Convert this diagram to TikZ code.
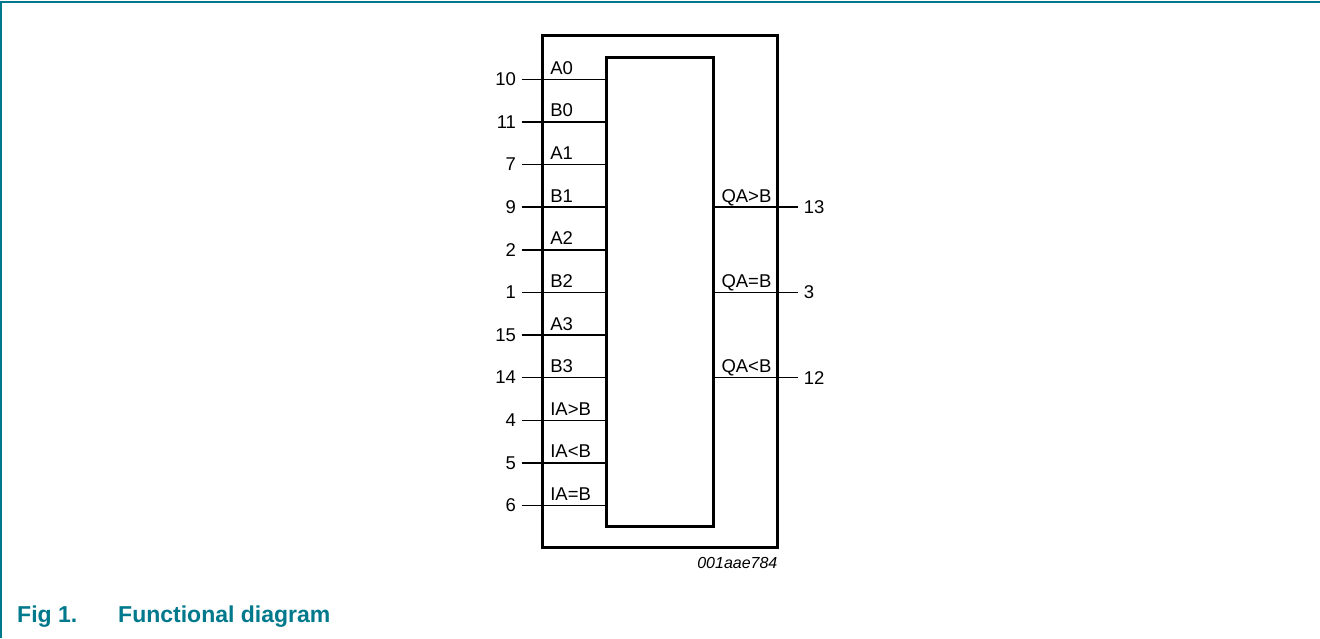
\documentclass[tikz,border=0pt]{standalone}
\usepackage{fontspec}
\setmainfont{Liberation Sans}
\usepackage{tikz}
\usetikzlibrary{calc,positioning}
\definecolor{nxpteal}{RGB}{0,121,140}
\tikzset{
  every node/.style={font=\fontsize{18.5}{22}\selectfont},
  block/.style={
    rectangle,
    draw=black, line width=3pt,
    inner sep=0pt, outer sep=0pt},
  pinline/.style={draw, line width=1.5pt},
  pinnum/.style={anchor=east, inner sep=0pt, xshift=-5pt},
  rpinnum/.style={anchor=west, inner sep=0pt, xshift=5pt},
  pinname/.style={anchor=base west, inner sep=0pt, xshift=7.5pt, yshift=5pt},
  rpinname/.style={anchor=base west, inner sep=0pt, xshift=8pt, yshift=5pt},
  figtext/.style={anchor=base west, inner sep=0pt, text=nxpteal,
    font=\fontsize{23}{26}\selectfont\bfseries},
}

\begin{document}
\begin{tikzpicture}[x=1pt, y=-1pt]
  \useasboundingbox (0,0) rectangle (1320,638);
  % page frame
  \draw[nxpteal, line width=1.8pt] (0.9,638) -- (0.9,2) -- (1320,2);

  \node[block, minimum width=235pt, minimum height=512pt] (frame) at (660.1,291.7) {};
  \node[block, minimum width=106.6pt, minimum height=468.3pt] (core) at (660,291.85) {};

  % inputs
  \coordinate (A0) at (521.7,79.3);
  \draw[pinline] (A0) node[pinnum] (n10) {10} -- (A0 -| core.west);
  \node[pinname] (lA0) at (A0 -| frame.west) {A0};
  \coordinate (B0) at (521.7,121.9);
  \draw[pinline] (B0) node[pinnum] (n11) {11} -- (B0 -| core.west);
  \node[pinname] (lB0) at (B0 -| frame.west) {B0};
  \coordinate (A1) at (521.7,164.5);
  \draw[pinline] (A1) node[pinnum] (n7) {7} -- (A1 -| core.west);
  \node[pinname] (lA1) at (A1 -| frame.west) {A1};
  \coordinate (B1) at (521.7,207.2);
  \draw[pinline] (B1) node[pinnum] (n9) {9} -- (B1 -| core.west);
  \node[pinname] (lB1) at (B1 -| frame.west) {B1};
  \coordinate (A2) at (521.7,249.8);
  \draw[pinline] (A2) node[pinnum] (n2) {2} -- (A2 -| core.west);
  \node[pinname] (lA2) at (A2 -| frame.west) {A2};
  \coordinate (B2) at (521.7,292.4);
  \draw[pinline] (B2) node[pinnum] (n1) {1} -- (B2 -| core.west);
  \node[pinname] (lB2) at (B2 -| frame.west) {B2};
  \coordinate (A3) at (521.7,335.0);
  \draw[pinline] (A3) node[pinnum] (n15) {15} -- (A3 -| core.west);
  \node[pinname] (lA3) at (A3 -| frame.west) {A3};
  \coordinate (B3) at (521.7,377.6);
  \draw[pinline] (B3) node[pinnum] (n14) {14} -- (B3 -| core.west);
  \node[pinname] (lB3) at (B3 -| frame.west) {B3};
  \coordinate (IGT) at (521.7,420.3);
  \draw[pinline] (IGT) node[pinnum] (n4) {4} -- (IGT -| core.west);
  \node[pinname] (lIGT) at (IGT -| frame.west) {IA>B};
  \coordinate (ILT) at (521.7,462.9);
  \draw[pinline] (ILT) node[pinnum] (n5) {5} -- (ILT -| core.west);
  \node[pinname] (lILT) at (ILT -| frame.west) {IA<B};
  \coordinate (IEQ) at (521.7,505.5);
  \draw[pinline] (IEQ) node[pinnum] (n6) {6} -- (IEQ -| core.west);
  \node[pinname] (lIEQ) at (IEQ -| frame.west) {IA=B};

  % outputs
  \coordinate (QGT) at (798,207.2);
  \draw[pinline] (QGT -| core.east) -- (QGT) node[rpinnum] (n13) {13};
  \node[rpinname] (lQGT) at (QGT -| core.east) {QA>B};
  \coordinate (QEQ) at (798,292.4);
  \draw[pinline] (QEQ -| core.east) -- (QEQ) node[rpinnum] (n3) {3};
  \node[rpinname] (lQEQ) at (QEQ -| core.east) {QA=B};
  \coordinate (QLT) at (798,377.6);
  \draw[pinline] (QLT -| core.east) -- (QLT) node[rpinnum] (n12) {12};
  \node[rpinname] (lQLT) at (QLT -| core.east) {QA<B};

  \node[anchor=base east, inner sep=0pt, font=\fontsize{16}{19}\selectfont\itshape]
    (code) at ($(frame.south east)+(0,20.5)$) {001aae784};

  % caption
  \node[figtext] (fignum) at (17,622) {Fig 1.};
  \node[figtext] (figtitle) at (118,622) {Functional diagram};
\end{tikzpicture}
\end{document}
